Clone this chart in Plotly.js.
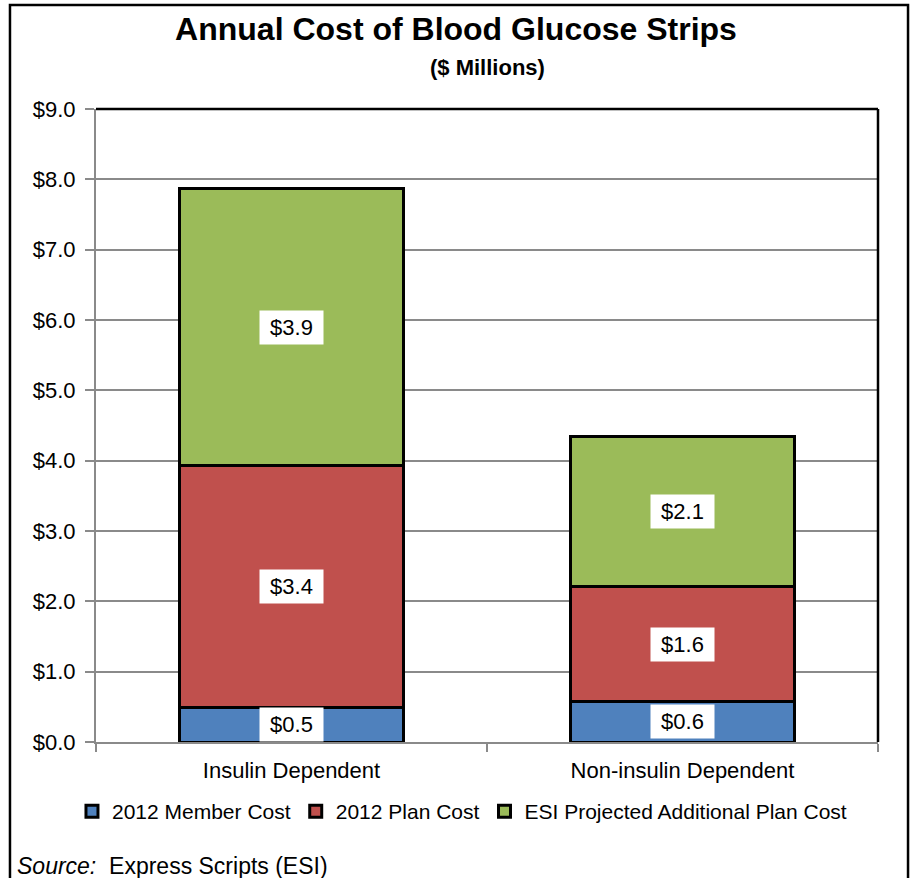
<!DOCTYPE html>
<html>
<head>
<meta charset="utf-8">
<script src="https://cdn.plot.ly/plotly-3.0.1.min.js"></script>
<style>
html,body{margin:0;padding:0;background:#fff;}
#chart{width:912px;height:878px;}
</style>
</head>
<body>
<div id="chart"></div>
<script>
// ---- data ----
const categories = ["Insulin Dependent", "Non-insulin Dependent"];
const seriesNames = ["2012 Member Cost", "2012 Plan Cost", "ESI Projected Additional Plan Cost"];
const memberCost = [0.49, 0.57];
const planCost = [3.44, 1.64];
const esiProjected = [3.94, 2.14];
const yTickValues = [0, 1, 2, 3, 4, 5, 6, 7, 8, 9];
const yTickLabels = ["$0.0", "$1.0", "$2.0", "$3.0", "$4.0", "$5.0", "$6.0", "$7.0", "$8.0", "$9.0"];
const chartTitle = "Annual Cost of Blood Glucose Strips";
const chartSubtitle = "($ Millions)";
const sourceText = "Express Scripts (ESI)";

const colors = ["#4F81BD", "#C0504D", "#9BBB59"];
const seriesValues = [memberCost, planCost, esiProjected];
const FONT = "Liberation Sans, Arial, sans-serif";

const traces = seriesValues.map((vals, i) => ({
  type: "bar",
  name: seriesNames[i],
  x: categories,
  y: vals,
  marker: {color: colors[i], line: {color: "#000", width: 3}},
  hoverinfo: "skip"
}));

// labels centred in each segment, white boxes
const annotations = [];
categories.forEach((cat, ci) => {
  let base = 0;
  seriesValues.forEach((vals) => {
    const v = vals[ci];
    annotations.push({
      x: cat, y: base + v / 2, xref: "x", yref: "y",
      text: "&nbsp;$" + v.toFixed(1) + "&nbsp;",
      showarrow: false,
      bgcolor: "#ffffff",
      borderpad: 4,
      font: {family: FONT, size: 22, color: "#000"}
    });
    base += v;
  });
});

annotations.push({
  xref: "paper", yref: "paper", x: 0.5, y: 1.066, xanchor: "center", yanchor: "middle",
  text: "<b>" + chartSubtitle + "</b>", showarrow: false,
  font: {family: FONT, size: 22, color: "#000"}
});
annotations.push({
  xref: "paper", yref: "paper", x: -0.104, y: -0.196, xanchor: "left", yanchor: "middle",
  text: "<i>Source:</i>&nbsp; " + sourceText, showarrow: false,
  font: {family: FONT, size: 23, color: "#000"}
});

const layout = {
  width: 912, height: 878,
  margin: {l: 96, r: 34, t: 109, b: 136},
  paper_bgcolor: "#fff", plot_bgcolor: "#fff",
  barmode: "stack",
  bargap: 0.427,
  showlegend: true,
  title: {
    text: "<b>" + chartTitle + "</b>",
    x: 0.5, xanchor: "center", xref: "container",
    y: 0.967, yanchor: "middle", yref: "container",
    font: {family: FONT, size: 32, color: "#000"}
  },
  font: {family: FONT, color: "#000"},
  xaxis: {
    type: "category",
    showline: true, linecolor: "#8a8a8a", linewidth: 2,
    ticks: "outside", tickson: "boundaries", ticklen: 8, tickcolor: "#8a8a8a", tickwidth: 2,
    showgrid: false,
    ticklabelstandoff: 8,
    tickfont: {family: FONT, size: 22, color: "#000"},
    fixedrange: true
  },
  yaxis: {
    range: [0, 9],
    tickmode: "array",
    tickvals: yTickValues,
    ticktext: yTickLabels,
    showline: true, linecolor: "#8a8a8a", linewidth: 2,
    ticks: "outside", ticklen: 9, tickcolor: "#8a8a8a", tickwidth: 2,
    showgrid: true, gridcolor: "#8a8a8a", gridwidth: 2,
    zeroline: false,
    ticklabelstandoff: 5,
    tickfont: {family: FONT, size: 22, color: "#000"},
    fixedrange: true
  },
  legend: {
    orientation: "h",
    x: 0.468, xanchor: "center",
    y: -0.11, yanchor: "middle",
    traceorder: "normal",
    bgcolor: "rgba(0,0,0,0)",
    font: {family: FONT, size: 21, color: "#000"},
    itemwidth: 30
  },
  shapes: [
    {type: "line", xref: "paper", yref: "paper", x0: 0, x1: 1, y0: 1, y1: 1, line: {color: "#000", width: 2.5}, layer: "above"},
    {type: "line", xref: "paper", yref: "paper", x0: 1, x1: 1, y0: 0, y1: 1, line: {color: "#000", width: 2.5}, layer: "above"},
    {type: "rect", xref: "paper", yref: "paper", x0: -0.110, x1: 1.0384, y0: -0.25, y1: 1.1643, line: {color: "#000", width: 2.5}, fillcolor: "rgba(0,0,0,0)", layer: "above"}
  ],
  annotations: annotations
};

Plotly.newPlot("chart", traces, layout, {displayModeBar: false, staticPlot: true});
</script>
</body>
</html>
